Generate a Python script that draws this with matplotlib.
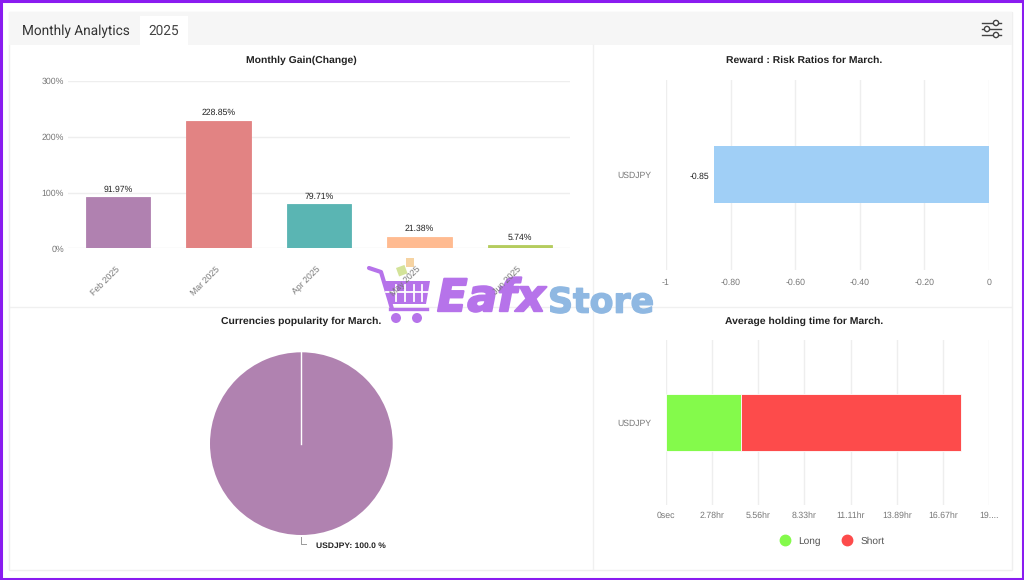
import matplotlib
matplotlib.use("Agg")
import matplotlib.pyplot as plt
import matplotlib.patheffects as pe
from matplotlib.lines import Line2D
from matplotlib.patches import Circle, Polygon, Rectangle
from matplotlib.transforms import ScaledTranslation

plt.rcParams['font.family'] = ['Liberation Sans', 'DejaVu Sans']
plt.rcParams['text.hinting'] = 'no_hinting'
plt.rcParams['text.hinting_factor'] = 8

W, H = 1024, 580
GRID = '#eeeeee'
TICK = '#777777'

# Data
months = ['Feb 2025', 'Mar 2025', 'Apr 2025', 'May 2025', 'Jun 2025']
gains = [91.97, 228.85, 79.71, 21.38, 5.74]
gain_colors = ['#b081b0', '#e28383', '#5ab5b3', '#ffbb91', '#b5cc5e']
gain_ticks = [0, 100, 200, 300]

pair = ['USDJPY']
ratio = [-0.85]
ratio_ticks = [-1, -0.8, -0.6, -0.4, -0.2, 0]
ratio_labels = ['-1', '-0.80', '-0.60', '-0.40', '-0.20', '0']

share = [100.0]

hold_long = [4.52]
hold_short = [13.23]
hold_ticks = [0, 2.78, 5.56, 8.33, 11.11, 13.89, 16.67, 19.44]
hold_labels = ['0sec', '2.78hr', '5.56hr', '8.33hr', '11.11hr', '13.89hr', '16.67hr', '19....']


def axes_at(left, top, right, bottom, **kw):
    # axes placed by pixel box, y counted from the top of the image
    return fig.add_axes([left / W, 1 - bottom / H, (right - left) / W, (bottom - top) / H], **kw)


def clean(ax):
    for s in ax.spines.values():
        s.set_visible(False)
    ax.patch.set_alpha(0)
    ax.set_axisbelow(True)
    ax.tick_params(length=0, labelsize=6.3, labelcolor=TICK)


fig = plt.figure(figsize=(W / 100, H / 100), dpi=100, facecolor='white')

# page frame, header, panel dividers
bg = axes_at(0, 0, W, H, zorder=0)
bg.set_xlim(0, W)
bg.set_ylim(H, 0)
bg.axis('off')
bg.add_patch(Rectangle((1, 1), W - 2, H - 2, fill=False, ec='#8a1cf0', lw=2.2))
bg.add_patch(Rectangle((9, 12), 1003, 558, fc='white', ec='#efefef', lw=1))
bg.add_patch(Rectangle((9, 12), 1003, 33, fc='#f6f6f6', ec='none'))
bg.add_patch(Rectangle((140, 16), 48, 29, fc='white', ec='none'))
bg.plot([593, 593], [45, 570], color='#f0f0f0', lw=1)
bg.plot([10, 1011], [307, 307], color='#f0f0f0', lw=1)
bg.text(22, 31, 'Monthly Analytics', family='Roboto', fontsize=9.8, color='#333333', va='center')
bg.text(148, 31, '2025', family='Roboto', fontsize=9.8, color='#444444', va='center')
for y, cx in [(23, 996), (29, 987), (35, 996)]:
    bg.plot([982, 1001], [y, y], color='#444444', lw=1)
    bg.add_patch(Circle((cx, y), 2.6, fc='white', ec='#444444', lw=1, zorder=3))

# titles
for x, y, t in [(301, 60, 'Monthly Gain(Change)'), (804, 60, 'Reward : Risk Ratios for March.'),
                (301, 321, 'Currencies popularity for March.'), (804, 321, 'Average holding time for March.')]:
    bg.text(x, y, t, fontsize=7.5, fontweight='bold', color='#222222', ha='center', va='center')

# watermark sits between the page and the charts, tick labels read over it
wm = axes_at(0, 0, W, H, zorder=0.5)
wm.set_xlim(0, W)
wm.set_ylim(H, 0)
wm.axis('off')
PURPLE = '#b673ea'
wm.plot([369, 381, 390, 392], [268, 272, 302, 309], color=PURPLE, lw=3, solid_capstyle='round')
wm.plot([390, 427], [309, 309], color=PURPLE, lw=2.4)
wm.add_patch(Polygon([(384, 281), (430, 281), (426, 304), (389, 304)], fc=PURPLE, ec='none'))
for x in (396, 405, 414, 422):
    wm.plot([x, x], [285, 301], color='white', lw=1.3)
wm.plot([386, 428], [292, 292], color='white', lw=1.3)
wm.add_patch(Circle((396, 318), 5, fc=PURPLE, ec='none'))
wm.add_patch(Circle((417, 318), 5, fc=PURPLE, ec='none'))
wm.add_patch(Rectangle((396, 268), 9, 9, angle=-20, fc='#cfe08e', ec='none', alpha=0.9))
wm.add_patch(Rectangle((406, 258), 8, 9, fc='#f6cf98', ec='none', alpha=0.9))
wm.text(437, 299, 'Eafx', fontsize=32, fontweight='bold', style='italic', family='DejaVu Sans', color=PURPLE,
        va='center', path_effects=[pe.withStroke(linewidth=1.5, foreground=PURPLE)])
wm.text(548, 303, 'Store', fontsize=25, fontweight='bold', family='DejaVu Sans', color='#8fb8e2',
        va='center', path_effects=[pe.withStroke(linewidth=1, foreground='#8fb8e2')])

# Monthly gain
ax1 = axes_at(68, 81, 570, 248.5, zorder=1)
clean(ax1)
ax1.bar(range(len(months)), gains, width=0.64, color=gain_colors, edgecolor=gain_colors, lw=0.6)
ax1.set_xlim(-0.5, 4.5)
ax1.set_ylim(0, 300)
ax1.set_yticks(gain_ticks)
ax1.set_yticklabels([f'{v}%' for v in gain_ticks])
ax1.yaxis.grid(True, color=GRID, lw=1)
ax1.tick_params(axis='y', pad=3)
ax1.set_xticks(range(len(months)))
ax1.set_xticklabels(months, rotation=45, ha='right', rotation_mode='anchor')
ax1.tick_params(axis='x', pad=12)
nudge = ScaledTranslation(-3 / 100, 0, fig.dpi_scale_trans)
for lab in ax1.get_xticklabels():
    lab.set_transform(lab.get_transform() + nudge)
for i, v in enumerate(gains):
    ax1.annotate(f'{v}%', (i, v), xytext=(0, 2.5), textcoords='offset points', ha='center', va='bottom',
                 fontsize=6.2, color='#222222')

# Reward : risk
ax2 = axes_at(666, 80, 989, 270, zorder=1)
clean(ax2)
ax2.barh(pair, ratio, height=0.3, color='#a0cff6')
ax2.set_xlim(-1, 0)
ax2.set_ylim(-0.5, 0.5)
ax2.set_xticks(ratio_ticks)
ax2.set_xticklabels(ratio_labels)
ax2.xaxis.grid(True, color=GRID, lw=1)
ax2.tick_params(axis='x', pad=6)
ax2.tick_params(axis='y', pad=10.5, labelsize=6.2)
ax2.annotate(f'{ratio[0]}', (ratio[0], 0), xytext=(-4, -1), textcoords='offset points', ha='right', va='center',
             fontsize=6.2, color='#222222')

# Currency share
ax3 = axes_at(210, 352.3, 392.7, 535, zorder=1)
ax3.pie(share, colors=['#b082b0'], startangle=90, radius=1, wedgeprops={'lw': 0})
ax3.plot([-0.005, -0.005], [0, 1], color='white', lw=1)
ax3.set_xlim(-1, 1)
ax3.set_ylim(-1, 1)
bg.plot([301, 301, 306], [537, 544, 544], color='#999999', lw=0.7)
bg.text(316, 546, f'{pair[0]}: {share[0]} %', fontsize=6.1, fontweight='bold', color='#222222', va='center')

# Holding time
ax4 = axes_at(666, 340, 989, 505, zorder=1)
clean(ax4)
ax4.barh(pair, hold_long, height=0.345, color='#84fa4b', edgecolor='white', lw=0.6)
ax4.barh(pair, hold_short, left=hold_long, height=0.345, color='#fd4b4b', edgecolor='white', lw=0.6)
ax4.set_xlim(0, 19.44)
ax4.set_ylim(-0.5, 0.5)
ax4.set_xticks(hold_ticks)
ax4.set_xticklabels(hold_labels)
ax4.xaxis.grid(True, color=GRID, lw=1)
ax4.tick_params(axis='x', pad=4.5)
ax4.tick_params(axis='y', pad=10.5, labelsize=6.2)
handles = [Line2D([], [], ls='', marker='o', ms=7.5, color='#84fa4b'),
           Line2D([], [], ls='', marker='o', ms=7.5, color='#fd4b4b')]
fig.legend(handles, ['Long', 'Short'], ncol=2, frameon=False, fontsize=7.3, labelcolor='#555555',
           loc='center', bbox_to_anchor=(830 / W, 1 - 541 / H), columnspacing=1.6, handletextpad=0.3)

fig.savefig('out.png', dpi=100)
